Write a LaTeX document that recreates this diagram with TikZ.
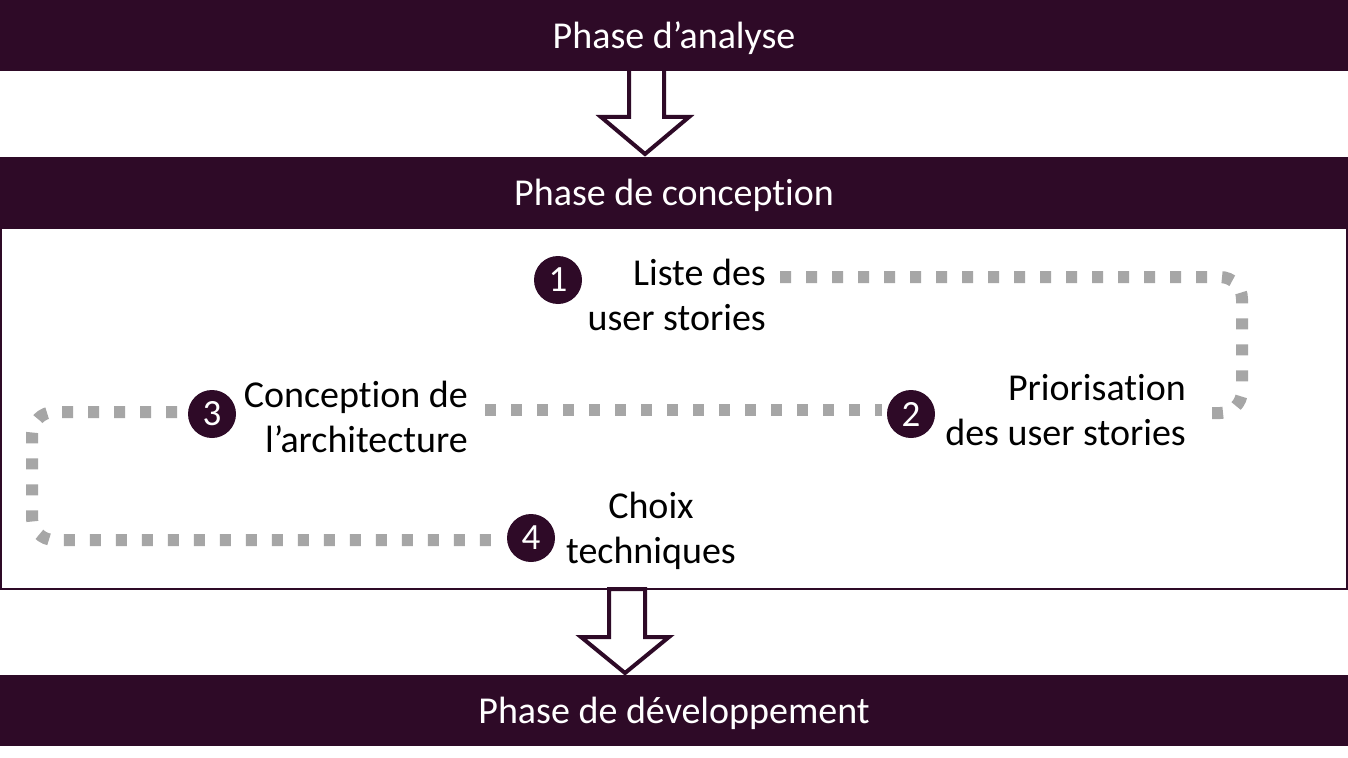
\documentclass[tikz,border=0pt]{standalone}
\usepackage{fontspec}
\setmainfont[Ligatures=NoCommon]{Carlito}
\definecolor{plum}{HTML}{2E0A27}
\definecolor{dotgray}{HTML}{A6A6A6}
\begin{document}
\begin{tikzpicture}[x=1pt,y=-1pt,
  bar/.style={fill=plum,text=white,minimum width=1348pt,minimum height=71pt,inner sep=0pt,font=\fontsize{38}{46}\selectfont},
  bartext/.style={text=white,inner sep=0pt,font=\fontsize{38}{46}\selectfont},
  blockarrow/.style={fill=white,draw=plum,line width=4pt,line join=miter},
  num/.style={circle,fill=plum,text=white,minimum size=48pt,inner sep=0pt,font=\fontsize{37}{44}\selectfont},
  lbl/.style={inner sep=0pt,text=black,font=\fontsize{38}{45}\selectfont},
  dotline/.style={draw=dotgray,line width=12pt,dash pattern=on 11pt off 15pt,rounded corners=22pt}]
\useasboundingbox (0,0) rectangle (1348,757);
\fill[white] (0,0) rectangle (1348,757);
% block arrows
\draw[blockarrow] (629,68) -- (629,117) -- (601,117) -- (645,154) -- (689,117) -- (664,117) -- (664,68) -- cycle;
\draw[blockarrow] (609,589) -- (609,637) -- (581,637) -- (625,673) -- (669,637) -- (645,637) -- (645,589) -- cycle;
% bars
\node[bar] (analyse) at (674,35.5) {};
\node[bartext] at (674,38) {Phase d’analyse};
\node[bar] (conception) at (674,192.5) {};
\node[bartext] at (674,195) {Phase de conception};
\node[bar] (dev) at (674,710.5) {};
\node[bartext] at (674,713) {Phase de développement};
\draw[plum,line width=2pt] (1,228) rectangle (1347,589);
% labels
\node[lbl,align=right,anchor=east] (t1) at (766,295) {Liste des\\user stories};
\node[lbl,align=right,anchor=east] (t2) at (1186,410) {Priorisation\\des user stories};
\node[lbl,align=right,anchor=east] (t3) at (468,417) {Conception de\\l’architecture};
\node[lbl,align=center] (t4) at (651,531) {Choix\\techniques};
\node[num] (n1) at (558,280) {1};
\node[num] (n2) at (911,414) {2};
\node[num] (n3) at (212,414) {3};
\node[num] (n4) at (531,538) {4};
% dotted connectors
\coordinate (a0) at (780,277);
\coordinate (a1) at (1242,277);
\coordinate (a2) at (1242,413);
\coordinate (a3) at (1203,413);
\draw[dotline] (a0) -- (a1) -- (a2) -- (a3);
\coordinate (b0) at (485,410);
\coordinate (b1) at (882,410);
\draw[dotline] (b0) -- (b1);
\coordinate (c0) at (177,412);
\coordinate (c1) at (32,412);
\coordinate (c2) at (32,540);
\coordinate (c3) at (497,540);
\draw[dotline] (c0) -- (c1) -- (c2) -- (c3);
\end{tikzpicture}
\end{document}
